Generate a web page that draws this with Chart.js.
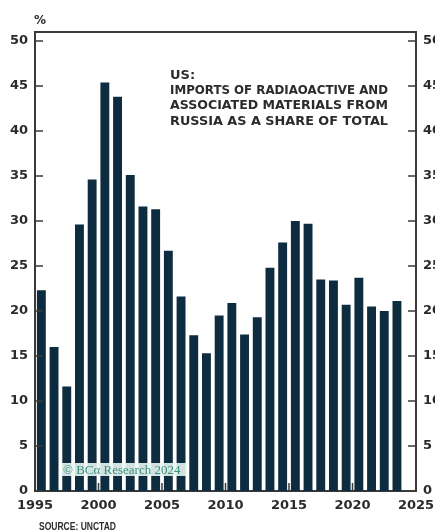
<!DOCTYPE html>
<html>
<head>
<meta charset="utf-8">
<script src="https://cdn.jsdelivr.net/npm/chart.js@4/dist/chart.umd.min.js"></script>
<style>
  html, body { margin: 0; padding: 0; background: #fff; }
  #wrap { width: 435px; height: 531px; position: relative; }
</style>
</head>
<body>
<div id="wrap"><canvas id="chart"></canvas></div>
<script>
// Annual share (%) of US radioactive material imports coming from Russia
const years = [1995, 1996, 1997, 1998, 1999, 2000, 2001, 2002, 2003, 2004,
  2005, 2006, 2007, 2008, 2009, 2010, 2011, 2012, 2013, 2014,
  2015, 2016, 2017, 2018, 2019, 2020, 2021, 2022, 2023];
const shares = [22.3, 16.0, 11.6, 29.6, 34.6, 45.4, 43.8, 35.1, 31.6, 31.3,
  26.7, 21.6, 17.3, 15.3, 19.5, 20.9, 17.4, 19.3, 24.8, 27.6,
  30.0, 29.7, 23.5, 23.4, 20.7, 23.7, 20.5, 20.0, 21.1];

const titleLines = ['US:', 'IMPORTS OF RADIAOACTIVE AND', 'ASSOCIATED MATERIALS FROM', 'RUSSIA AS A SHARE OF TOTAL'];
const yearTicks = ['1995', '2000', '2005', '2010', '2015', '2020', '2025'];

const INK = '#2b2b2b';
const BAR = '#0d2c3f';
const SANS = '"DejaVu Sans", sans-serif';

// each yearly bar sits in the middle of its year
const points = years.map((y, i) => ({ x: y + 0.5, y: shares[i] }));

const line = (ctx, x1, y1, x2, y2) => {
  ctx.beginPath();
  ctx.moveTo(x1, y1);
  ctx.lineTo(x2, y2);
  ctx.stroke();
};

const decor = {
  id: 'decor',
  afterDatasetsDraw(chart) {
    const { ctx, chartArea: a, scales } = chart;
    ctx.save();

    // tick marks point into the plot on all three axes
    ctx.strokeStyle = '#3a3a3a';
    ctx.lineWidth = 1.5;
    scales.y.ticks.forEach(t => {
      const p = scales.y.getPixelForValue(t.value);
      line(ctx, a.left, p, a.left + 8, p);
    });
    scales.y2.ticks.forEach(t => {
      const p = scales.y2.getPixelForValue(t.value);
      line(ctx, a.right - 8, p, a.right, p);
    });
    scales.x.ticks.forEach(t => {
      const p = scales.x.getPixelForValue(t.value);
      line(ctx, p, a.bottom, p, a.bottom - 8);
    });

    // top edge of the frame
    ctx.lineWidth = 2;
    line(ctx, a.left - 1, a.top, a.right + 1, a.top);

    // copyright badge
    ctx.fillStyle = 'rgba(232, 246, 242, 0.9)';
    ctx.fillRect(62, 463, 125, 13);
    ctx.fillStyle = '#3a8f7f';
    ctx.font = '13px "Liberation Serif", serif';
    ctx.textBaseline = 'alphabetic';
    ctx.textAlign = 'left';
    ctx.fillText('© BCα Research 2024', 63, 474, 123);

    ctx.restore();
  },
  afterDraw(chart) {
    const { ctx } = chart;
    ctx.save();
    ctx.fillStyle = INK;
    ctx.textAlign = 'left';
    ctx.textBaseline = 'alphabetic';

    ctx.font = 'bold 12px ' + SANS;
    ctx.fillText('%', 34, 24);

    ctx.font = 'bold 13px ' + SANS;
    titleLines.forEach((t, i) => {
      ctx.fillText(t, 170, 79 + i * 15.2, i === 0 ? 40 : 218);
    });

    ctx.font = 'bold 11px "Liberation Sans", sans-serif';
    ctx.fillText('SOURCE: UNCTAD', 39, 530, 77);
    ctx.restore();
  }
};

const yAxis = (position, width) => ({
  type: 'linear',
  position,
  min: 0,
  max: 51,
  afterFit: s => { s.width = width; },
  border: { display: true, color: '#3a3a3a', width: 2 },
  grid: { display: false, drawTicks: false },
  ticks: {
    stepSize: 5,
    includeBounds: false,
    padding: 7,
    color: INK,
    font: { family: SANS, size: 13, weight: 'bold' }
  }
});

new Chart(document.getElementById('chart'), {
  type: 'bar',
  data: {
    datasets: [{
      data: points,
      backgroundColor: BAR,
      borderWidth: 0,
      categoryPercentage: 1,
      barPercentage: 0.7
    }]
  },
  options: {
    responsive: true,
    maintainAspectRatio: false,
    animation: false,
    layout: { padding: { top: 32, left: 0, right: 0, bottom: 0 } },
    plugins: {
      legend: { display: false },
      tooltip: { enabled: false }
    },
    scales: {
      x: {
        type: 'linear',
        min: 1995,
        max: 2025,
        offset: false,
        afterFit: s => { s.height = 40; s.paddingLeft = 0; s.paddingRight = 0; },
        border: { display: true, color: '#3a3a3a', width: 2 },
        grid: { display: false, drawTicks: false, offset: false },
        ticks: {
          stepSize: 5,
          autoSkip: false,
          maxRotation: 0,
          padding: 7,
          color: INK,
          font: { family: SANS, size: 13, weight: 'bold' },
          callback: (v) => yearTicks[yearTicks.indexOf(String(v))] ?? ''
        }
      },
      y: yAxis('left', 35),
      y2: yAxis('right', 19)
    }
  },
  plugins: [decor]
});
</script>
</body>
</html>
